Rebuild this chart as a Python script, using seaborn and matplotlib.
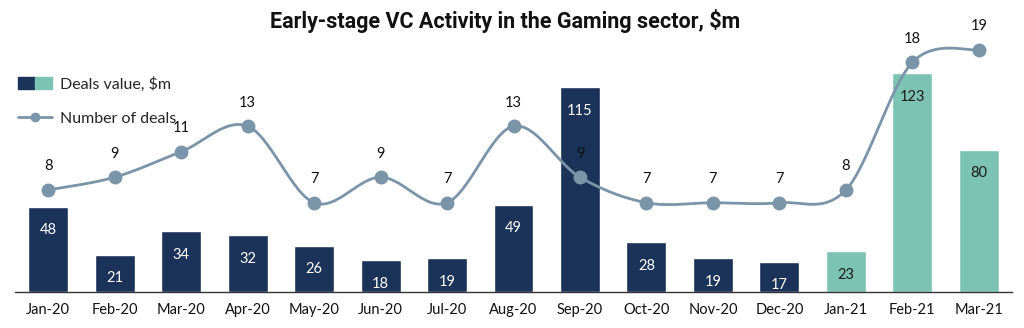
import numpy as np
import pandas as pd
import matplotlib
matplotlib.use("Agg")
import matplotlib.pyplot as plt
import seaborn as sns
from matplotlib.patches import Patch
from matplotlib.lines import Line2D
from matplotlib.legend_handler import HandlerTuple

months = ["Jan-20", "Feb-20", "Mar-20", "Apr-20", "May-20", "Jun-20", "Jul-20", "Aug-20",
          "Sep-20", "Oct-20", "Nov-20", "Dec-20", "Jan-21", "Feb-21", "Mar-21"]
deal_values = [48, 21, 34, 32, 26, 18, 19, 49, 115, 28, 19, 17, 23, 123, 80]
deal_counts = [8, 9, 11, 13, 7, 9, 7, 13, 9, 7, 7, 7, 8, 18, 19]

NAVY = "#1b3358"
TEAL = "#7cc3b4"
LINE = "#7b95a8"
colors = [NAVY] * 12 + [TEAL] * 3

sns.set_theme(style="white")
plt.rcParams["font.family"] = ["Lato", "DejaVu Sans"]

fig = plt.figure(figsize=(10.24, 3.28), dpi=100)
ax = fig.add_axes([15 / 1024, 36 / 328, 997 / 1024, 252 / 328])

df = pd.DataFrame({"month": months, "value": deal_values})
sns.barplot(data=df, x="month", y="value", hue="month", palette=colors, legend=False,
            width=0.6, ax=ax, saturation=1)
ax.set_xlim(-0.5, len(months) - 0.5)
ax.set_ylim(0, 141.6)
ax.set_xlabel("")
ax.set_ylabel("")
ax.set_yticks([])
for s in ["top", "right", "left"]:
    ax.spines[s].set_visible(False)
ax.spines["bottom"].set_color("#333333")
ax.spines["bottom"].set_linewidth(1.0)
ax.tick_params(axis="x", which="major", length=0, labelsize=10.5, pad=8, colors="#111111")
ax.set_xticks(np.arange(-0.5, len(months)), minor=True)
ax.tick_params(axis="x", which="minor", length=5, width=1, color="#333333", direction="out")

for i, v in enumerate(deal_values):
    ax.annotate(str(v), (i, v), xytext=(0, -17), textcoords="offset points",
                ha="center", va="center", fontsize=10.5,
                color="white" if i < 12 else "#1a1a1a")

ax2 = ax.twinx()
ax2.set_ylim(0, 19.76)
ax2.set_yticks([])
for s in ["top", "right", "left", "bottom"]:
    ax2.spines[s].set_visible(False)

# Catmull-Rom smooth curve through the data points
xs = np.arange(len(deal_counts), dtype=float)
ys = np.array(deal_counts, dtype=float)
px = np.concatenate([[xs[0]], xs, [xs[-1]]])
py = np.concatenate([[ys[0]], ys, [ys[-1]]])
cx, cy = [], []
t = np.linspace(0, 1, 30)
for k in range(1, len(px) - 2):
    p0, p1, p2, p3 = (np.array([px[j], py[j]]) for j in range(k - 1, k + 3))
    m1 = (p2 - p0) / 2
    m2 = (p3 - p1) / 2
    h00 = 2 * t**3 - 3 * t**2 + 1
    h10 = t**3 - 2 * t**2 + t
    h01 = -2 * t**3 + 3 * t**2
    h11 = t**3 - t**2
    pts = np.outer(h00, p1) + np.outer(h10, m1) + np.outer(h01, p2) + np.outer(h11, m2)
    cx.extend(pts[:, 0]); cy.extend(pts[:, 1])
ax2.plot(cx, cy, color=LINE, lw=2.0, zorder=3)
ax2.plot(xs, ys, "o", color=LINE, ms=9, zorder=4)
for i, v in enumerate(deal_counts):
    ax2.annotate(str(v), (i, v), xytext=(0, 17), textcoords="offset points",
                 ha="center", va="center", fontsize=10.5, color="#111111")

fig.text(0.493, 0.935, "Early-stage VC Activity in the Gaming sector, $m", ha="center",
         va="center", fontsize=15.5, fontweight="bold", family=["Roboto", "DejaVu Sans"],
         color="#111111")

handles = [(Patch(color=NAVY), Patch(color=TEAL)),
           Line2D([], [], color=LINE, lw=2.0, marker="o", ms=6)]
leg = fig.legend(handles, ["Deals value, $m", "Number of deals"],
                 handler_map={tuple: HandlerTuple(ndivide=None, pad=0)},
                 loc="upper left", bbox_to_anchor=(0.004, 0.81), frameon=False,
                 fontsize=11.5, handlelength=2.1, handleheight=0.8, labelspacing=1.2,
                 handletextpad=0.5)

fig.savefig("out.png", dpi=100)
